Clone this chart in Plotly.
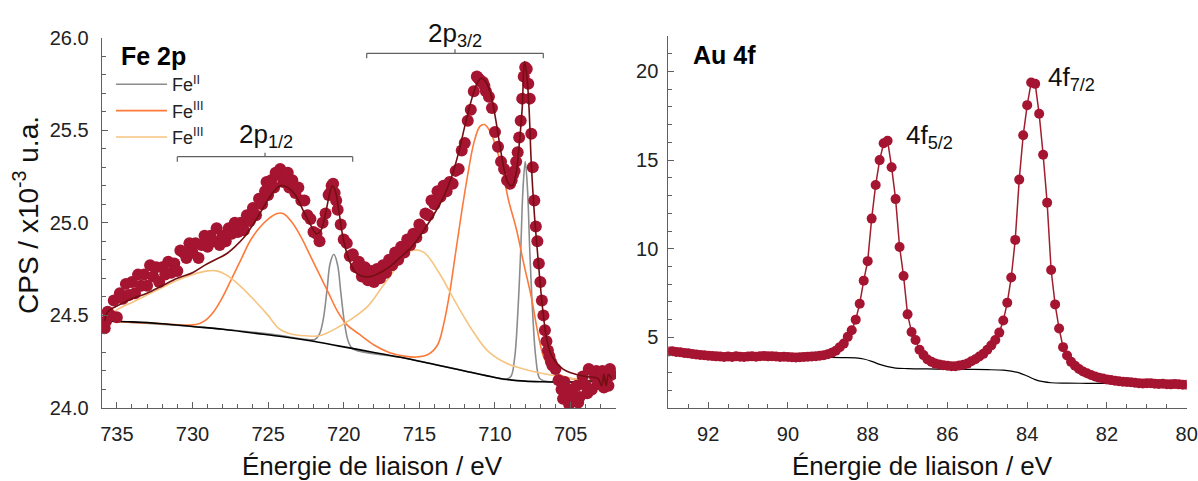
import plotly.graph_objects as go

W, H = 1198, 481
FONT = "Liberation Sans, Arial, sans-serif"

# ---------------- Fe 2p data ----------------
fe_be = [735.8, 735.7, 735.6, 735.4, 735.2, 735.0, 734.8, 734.6, 734.4, 734.2, 734.0, 733.8, 733.6, 733.4,
         733.2, 733.0, 732.8, 732.6, 732.4, 732.2, 732.0, 731.8, 731.6, 731.4, 731.2, 731.0, 730.8, 730.6,
         730.4, 730.2, 730.0, 729.8, 729.6, 729.4, 729.2, 729.0, 728.8, 728.6, 728.4, 728.2, 728.0, 727.8,
         727.6, 727.4, 727.2, 727.0, 726.8, 726.6, 726.4, 726.2, 726.0, 725.8, 725.6, 725.4, 725.2, 725.1,
         725.0, 724.8, 724.6, 724.5, 724.4, 724.2, 724.0, 723.8, 723.7, 723.6, 723.4, 723.2, 723.0, 722.8,
         722.6, 722.4, 722.2, 722.0, 721.8, 721.6, 721.4, 721.2, 721.0, 720.9, 720.8, 720.7, 720.6, 720.5,
         720.4, 720.2, 720.0, 719.8, 719.6, 719.4, 719.2, 719.0, 718.8, 718.6, 718.4, 718.2, 718.0, 717.8,
         717.6, 717.4, 717.2, 717.0, 716.8, 716.6, 716.4, 716.2, 716.0, 715.8, 715.6, 715.4, 715.2, 715.0,
         714.8, 714.6, 714.4, 714.2, 714.0, 713.8, 713.6, 713.4, 713.2, 713.0, 712.8, 712.6, 712.4, 712.2,
         712.0, 711.8, 711.6, 711.4, 711.2, 711.1, 711.0, 710.9, 710.8, 710.7, 710.6, 710.4, 710.2, 710.0,
         709.8, 709.6, 709.4, 709.2, 709.0, 708.9, 708.8, 708.7, 708.6, 708.5, 708.4, 708.3, 708.2, 708.1,
         708.0, 707.9, 707.8, 707.7, 707.6, 707.5, 707.4, 707.3, 707.2, 707.1, 707.0, 706.9, 706.8, 706.7,
         706.6, 706.5, 706.4, 706.3, 706.2, 706.0, 705.8, 705.6, 705.5, 705.4, 705.2, 705.1, 705.0, 704.9,
         704.8, 704.6, 704.5, 704.4, 704.2, 704.0, 703.9, 703.8, 703.6, 703.4, 703.3, 703.2, 703.0, 702.9,
         702.8, 702.6, 702.5, 702.4, 702.3]
fe_cps = [24.43, 24.47, 24.52, 24.50, 24.58, 24.49, 24.62, 24.59, 24.67, 24.61, 24.68, 24.62, 24.72, 24.66,
          24.72, 24.66, 24.77, 24.71, 24.76, 24.68, 24.76, 24.72, 24.79, 24.73, 24.78, 24.74, 24.85, 24.84,
          24.81, 24.89, 24.84, 24.89, 24.81, 24.88, 24.93, 24.87, 24.93, 24.90, 24.97, 24.88, 24.93, 24.90,
          24.97, 24.94, 25.00, 24.95, 25.00, 24.96, 25.04, 25.01, 25.08, 25.04, 25.13, 25.10, 25.17, 25.22,
          25.15, 25.23, 25.19, 25.27, 25.26, 25.29, 25.22, 25.26, 25.27, 25.19, 25.23, 25.16, 25.19, 25.12,
          25.12, 25.04, 25.02, 24.95, 24.94, 24.90, 25.00, 25.05, 25.15, 25.16, 25.20, 25.21, 25.16, 25.12,
          25.07, 24.99, 24.91, 24.89, 24.82, 24.83, 24.76, 24.79, 24.71, 24.76, 24.69, 24.74, 24.68, 24.75,
          24.70, 24.77, 24.73, 24.80, 24.77, 24.84, 24.80, 24.87, 24.84, 24.91, 24.88, 24.94, 24.92, 24.99,
          24.97, 25.05, 25.04, 25.12, 25.10, 25.17, 25.14, 25.20, 25.17, 25.22, 25.21, 25.28, 25.29, 25.39,
          25.43, 25.55, 25.61, 25.71, 25.79, 25.78, 25.77, 25.76, 25.76, 25.74, 25.71, 25.68, 25.62, 25.49,
          25.41, 25.33, 25.29, 25.23, 25.21, 25.23, 25.26, 25.28, 25.33, 25.38, 25.46, 25.55, 25.67, 25.79,
          25.84, 25.83, 25.75, 25.67, 25.48, 25.30, 25.12, 24.98, 24.90, 24.78, 24.68, 24.58, 24.50, 24.42,
          24.36, 24.31, 24.28, 24.25, 24.23, 24.21, 24.15, 24.10, 24.05, 24.14, 24.06, 24.02, 24.09, 24.10,
          24.04, 24.12, 24.03, 24.06, 24.17, 24.12, 24.08, 24.21, 24.10, 24.17, 24.20, 24.13, 24.18, 24.20,
          24.11, 24.16, 24.12, 24.21, 24.18]

# fitted envelope
fit_be = [735.8, 735.6, 735.0, 734.0, 733.0, 732.0, 731.0, 730.0, 729.2, 728.5, 727.8, 727.2, 726.6, 726.0,
          725.4, 724.8, 724.2, 723.7, 723.2, 722.7, 722.2, 721.8, 721.5, 721.2, 720.95, 720.75, 720.55,
          720.3, 720.0, 719.6, 719.2, 718.7, 718.2, 717.6, 717.0, 716.3, 715.5, 714.7, 714.0, 713.4, 712.9,
          712.4, 712.0, 711.6, 711.2, 710.9, 710.6, 710.3, 710.0, 709.7, 709.4, 709.1, 708.85, 708.6, 708.4,
          708.2, 708.05, 707.9, 707.75, 707.6, 707.4, 707.2, 707.0, 706.8, 706.6, 706.3, 706.0, 705.5,
          705.0, 704.0, 703.2, 702.95, 702.8, 702.65, 702.5, 702.3]
fit_cps = [24.47, 24.52, 24.55, 24.59, 24.62, 24.66, 24.70, 24.73, 24.77, 24.80, 24.83, 24.87, 24.92, 24.99,
           25.07, 25.15, 25.20, 25.19, 25.15, 25.07, 24.99, 24.94, 24.96, 25.05, 25.15, 25.20, 25.17,
           25.05, 24.90, 24.79, 24.73, 24.71, 24.71, 24.73, 24.76, 24.81, 24.87, 24.96, 25.05, 25.14, 25.24,
           25.38, 25.52, 25.65, 25.75, 25.78, 25.76, 25.70, 25.58, 25.43, 25.29, 25.21, 25.20, 25.27, 25.42,
           25.62, 25.87, 25.80, 25.62, 25.32, 25.05, 24.85, 24.66, 24.50, 24.38, 24.29, 24.25, 24.21,
           24.19, 24.17, 24.16, 24.12, 24.18, 24.12, 24.18, 24.16]

# background
bg_be = [735.8, 734.0, 732.0, 730.0, 728.0, 726.0, 724.0, 722.0, 720.0, 718.0, 716.0, 714.0, 712.0, 710.0,
         709.0, 708.0, 707.0, 705.0, 703.2, 702.95, 702.8, 702.65, 702.5, 702.3]
bg_cps = [24.47, 24.465, 24.455, 24.44, 24.425, 24.405, 24.385, 24.36, 24.33, 24.30, 24.27, 24.235, 24.20,
          24.165, 24.152, 24.145, 24.142, 24.14, 24.14, 24.11, 24.16, 24.11, 24.16, 24.14]

# Fe(II) component
fe2_be = [735.8, 730.0, 725.0, 722.4, 721.9, 721.6, 721.35, 721.1, 720.9, 720.65, 720.4, 720.2, 719.95,
          719.7, 719.4, 716.0, 712.0, 710.0, 709.3, 708.95, 708.7, 708.5, 708.3, 708.15, 708.0, 707.85,
          707.7, 707.5, 707.3, 707.05, 706.7, 705.0, 702.3]
fe2_cps = [24.47, 24.44, 24.40, 24.37, 24.37, 24.40, 24.48, 24.64, 24.78, 24.83, 24.77, 24.63, 24.46,
           24.36, 24.32, 24.27, 24.20, 24.165, 24.155, 24.17, 24.27, 24.50, 24.85, 25.18, 25.33, 25.18,
           24.85, 24.50, 24.27, 24.16, 24.145, 24.14, 24.14]

# Fe(III) component (orange)
fe3a_be = [735.8, 732.0, 729.8, 729.2, 728.6, 728.0, 727.4, 726.8, 726.2, 725.6, 725.0, 724.4, 724.0,
           723.4, 722.8, 722.2, 721.6, 721.0, 720.4, 719.8, 719.0, 718.0, 717.0, 716.0, 715.2, 714.4,
           713.8, 713.4, 713.0, 712.6, 712.2, 711.8, 711.4, 711.0, 710.7, 710.3, 709.9, 709.5, 709.1,
           708.6, 708.1, 707.6, 707.2, 706.8, 706.4, 706.0, 705.0, 704.0, 702.3]
fe3a_cps = [24.47, 24.455, 24.45, 24.47, 24.52, 24.60, 24.70, 24.80, 24.90, 24.97, 25.02, 25.05, 25.05,
            25.00, 24.92, 24.82, 24.72, 24.62, 24.52, 24.45, 24.40, 24.34, 24.30, 24.28, 24.275, 24.29,
            24.34, 24.45, 24.62, 24.84, 25.06, 25.26, 25.43, 25.52, 25.53, 25.49, 25.40, 25.28, 25.12,
            24.97, 24.78, 24.60, 24.42, 24.28, 24.22, 24.19, 24.16, 24.15, 24.14]

# Fe(III) component (light orange)
fe3b_be = [735.8, 735.0, 734.0, 733.0, 732.0, 731.0, 730.0, 729.0, 728.4, 727.8, 727.0, 726.0, 725.0,
           724.3, 723.5, 722.5, 721.6, 720.5, 719.5, 718.4, 717.4, 716.3, 715.5, 714.7, 713.7, 712.6,
           711.5, 710.5, 709.2, 707.6, 705.7, 704.0, 702.3]
fe3b_cps = [24.48, 24.53, 24.57, 24.61, 24.65, 24.69, 24.72, 24.74, 24.74, 24.72, 24.67, 24.59, 24.50,
            24.43, 24.40, 24.39, 24.39, 24.43, 24.48, 24.55, 24.66, 24.78, 24.85, 24.84, 24.73, 24.57,
            24.42, 24.31, 24.24, 24.20, 24.17, 24.15, 24.14]

# ---------------- Au 4f data ----------------
au_be = [93.0, 92.9, 92.8, 92.7, 92.6, 92.5, 92.4, 92.3, 92.2, 92.1, 92.0, 91.9, 91.8, 91.7, 91.6, 91.5,
         91.4, 91.3, 91.2, 91.1, 91.0, 90.9, 90.8, 90.7, 90.6, 90.5, 90.4, 90.3, 90.2, 90.1, 90.0, 89.9,
         89.8, 89.7, 89.6, 89.5, 89.4, 89.3, 89.2, 89.1, 89.0, 88.9, 88.8, 88.7, 88.6, 88.5, 88.4, 88.3,
         88.2, 88.1, 88.0, 87.9, 87.8, 87.7, 87.6, 87.5, 87.4, 87.3, 87.2, 87.1, 87.0, 86.9, 86.8, 86.7,
         86.6, 86.5, 86.4, 86.3, 86.2, 86.1, 86.0, 85.9, 85.8, 85.7, 85.6, 85.5, 85.4, 85.3, 85.2, 85.1,
         85.0, 84.9, 84.8, 84.7, 84.6, 84.5, 84.4, 84.3, 84.2, 84.1, 84.0, 83.9, 83.8, 83.7, 83.6, 83.5,
         83.4, 83.3, 83.2, 83.1, 83.0, 82.9, 82.8, 82.7, 82.6, 82.5, 82.4, 82.3, 82.2, 82.1, 82.0, 81.9,
         81.8, 81.7, 81.6, 81.5, 81.4, 81.3, 81.2, 81.1, 81.0, 80.9, 80.8, 80.7, 80.6, 80.5, 80.4, 80.3,
         80.2, 80.1, 80.0]
au_cps = [4.20, 4.22, 4.18, 4.16, 4.12, 4.10, 4.06, 4.03, 4.01, 3.99, 3.97, 3.95, 3.93, 3.92, 3.90, 3.92,
          3.90, 3.93, 3.91, 3.90, 3.92, 3.93, 3.91, 3.94, 3.95, 3.93, 3.94, 3.92, 3.90, 3.91, 3.89, 3.88,
          3.87, 3.88, 3.90, 3.91, 3.92, 3.94, 3.96, 3.99, 4.05, 4.13, 4.25, 4.45, 4.65, 5.03, 5.40, 6.00,
          6.90, 8.20, 9.30, 11.70, 13.60, 15.00, 15.95, 16.09, 14.60, 12.80, 10.10, 8.46, 6.30, 5.30, 4.85,
          4.30, 4.00, 3.75, 3.62, 3.52, 3.47, 3.43, 3.40, 3.37, 3.37, 3.41, 3.46, 3.52, 3.65, 3.77, 3.92,
          4.07, 4.30, 4.55, 4.85, 5.27, 5.95, 6.95, 8.38, 10.50, 13.90, 16.40, 18.10, 19.38, 19.30, 17.61,
          15.30, 12.60, 8.80, 6.86, 5.50, 4.45, 3.98, 3.62, 3.40, 3.22, 3.08, 2.98, 2.88, 2.80, 2.73, 2.68,
          2.63, 2.59, 2.56, 2.53, 2.50, 2.48, 2.47, 2.44, 2.42, 2.40, 2.41, 2.42, 2.39, 2.37, 2.38, 2.36,
          2.35, 2.37, 2.35, 2.33, 2.33]

aubg_be = [88.93, 88.6, 88.3, 88.1, 87.9, 87.7, 87.5, 87.3, 87.0, 86.5, 86.0, 85.5, 85.0, 84.6, 84.4, 84.2,
           84.0, 83.8, 83.6, 83.4, 83.0, 82.5, 82.0]
aubg_cps = [3.87, 3.86, 3.84, 3.78, 3.65, 3.48, 3.35, 3.27, 3.24, 3.22, 3.21, 3.20, 3.18, 3.15, 3.10, 3.00,
            2.82, 2.62, 2.50, 2.44, 2.42, 2.41, 2.41]

legend_names = ["Fe<sup>II</sup>", "Fe<sup>III</sup>", "Fe<sup>III</sup>"]

# ---------------- colours ----------------
C_DATA = "rgb(165,20,48)"
C_FIT = "rgb(115,15,18)"
C_FE2 = "rgb(140,140,140)"
C_FE3A = "rgb(252,122,58)"
C_FE3B = "rgb(246,196,128)"
C_AXIS = "#606060"

fig = go.Figure()

def line(x, y, color, width, name=None, show=False, xa="x", ya="y", shape="spline"):
    fig.add_trace(go.Scatter(x=x, y=y, mode="lines", name=name, showlegend=show,
                             line=dict(color=color, width=width, shape=shape, smoothing=1.0),
                             xaxis=xa, yaxis=ya, hoverinfo="skip"))

line(fe2_be, fe2_cps, C_FE2, 1.6, legend_names[0], True)
line(fe3a_be, fe3a_cps, C_FE3A, 1.6, legend_names[1], True)
line(fe3b_be, fe3b_cps, C_FE3B, 1.6, legend_names[2], True)
line(bg_be, bg_cps, "black", 1.6)
fig.add_trace(go.Scatter(x=fe_be, y=fe_cps, mode="markers", showlegend=False,
                         marker=dict(color=C_DATA, size=12, line=dict(width=0)),
                         xaxis="x", yaxis="y", hoverinfo="skip"))
line(fit_be, fit_cps, C_FIT, 1.6)

# Au 4f
line(aubg_be, aubg_cps, "black", 1.2, xa="x2", ya="y2")
fig.add_trace(go.Scatter(x=au_be, y=au_cps, mode="lines+markers", showlegend=False,
                         line=dict(color="rgb(160,30,45)", width=1.5),
                         marker=dict(color=C_DATA, size=10, line=dict(width=0)),
                         xaxis="x2", yaxis="y2", hoverinfo="skip"))

def px(xp):
    return xp / W

def py(yp):
    return 1 - yp / H

axis_common = dict(showline=True, linecolor=C_AXIS, linewidth=1, ticks="inside", ticklen=6,
                   tickwidth=1, tickcolor=C_AXIS, showgrid=False, zeroline=False, automargin=False,
                   tickfont=dict(family=FONT, size=20, color="#222"))

fig.update_layout(
    template="none",
    width=W, height=H, margin=dict(l=0, r=0, t=0, b=0, pad=0, autoexpand=False),
    paper_bgcolor="white", plot_bgcolor="white",
    font=dict(family=FONT, color="#111"),
    xaxis=dict(domain=[px(101.7), px(616)], range=[736, 702], anchor="y", dtick=5, tick0=0,
               minor=dict(ticks="inside", ticklen=4, dtick=1, tickcolor=C_AXIS, tick0=0),
               ticklabelstandoff=8, **axis_common),
    yaxis=dict(domain=[py(408), py(37.5)], range=[24, 26], anchor="x", dtick=0.5, tick0=0,
               tickformat=".1f", ticklabelstandoff=8,
               minor=dict(ticks="inside", ticklen=4, dtick=0.1, tickcolor=C_AXIS, tick0=0),
               **axis_common),
    xaxis2=dict(domain=[px(668.3), px(1186.7)], range=[93, 80], anchor="y2", dtick=2, tick0=0,
                minor=dict(ticks="inside", ticklen=4, dtick=0.5, tickcolor=C_AXIS, tick0=0),
                ticklabelstandoff=8, **axis_common),
    yaxis2=dict(domain=[py(408.3), py(36)], range=[1, 22], anchor="x2", dtick=5, tick0=0,
                ticklabelstandoff=5,
                minor=dict(ticks="inside", ticklen=4, dtick=1, tickcolor=C_AXIS, tick0=0),
                **axis_common),
    legend=dict(x=px(111), y=py(66), xanchor="left", yanchor="top", bgcolor="rgba(0,0,0,0)",
                font=dict(family=FONT, size=18, color="#222"), tracegroupgap=0, itemwidth=51),
    showlegend=True,
)

ann = []
ann.append(dict(text="CPS / x10<sup>-3</sup> u.a.", x=px(26), y=py(215), textangle=-90,
                font=dict(size=28)))
ann.append(dict(text="Énergie de liaison / eV", x=px(372), y=py(466), font=dict(size=26)))
ann.append(dict(text="Énergie de liaison / eV", x=px(922), y=py(466), font=dict(size=26)))
ann.append(dict(text="<b>Fe 2p</b>", x=px(119), y=py(56), xanchor="left", font=dict(size=25, color="black")))
ann.append(dict(text="<b>Au 4f</b>", x=px(691), y=py(55), xanchor="left", font=dict(size=25, color="black")))
ann.append(dict(text="2p<sub>1/2</sub>", x=px(265.5), y=py(135), font=dict(size=26)))
ann.append(dict(text="2p<sub>3/2</sub>", x=px(455), y=py(34), font=dict(size=26)))
ann.append(dict(text="4f<sub>5/2</sub>", x=px(904), y=py(137), xanchor="left", font=dict(size=26)))
ann.append(dict(text="4f<sub>7/2</sub>", x=px(1046), y=py(78), xanchor="left", font=dict(size=26)))
for a in ann:
    a.setdefault("xanchor", "center")
    a.setdefault("yanchor", "middle")
    a["xref"] = "paper"
    a["yref"] = "paper"
    a["showarrow"] = False
    a["font"].setdefault("family", FONT)
    a["font"].setdefault("color", "#111")
fig.update_layout(annotations=ann)

# brackets (pixel positions of the peak-group braces)
brackets = [(177.3, 352.7, 156.7), (366.7, 543.3, 53.3)]
shapes = []
for x0, x1, yb in brackets:
    xc = (x0 + x1) / 2
    for (a, b, c, d) in [(x0, yb, x1, yb), (x0, yb, x0, yb + 5), (x1, yb, x1, yb + 5), (xc, yb, xc, yb - 4)]:
        shapes.append(dict(type="line", xref="paper", yref="paper", x0=px(a), y0=py(b), x1=px(c), y1=py(d),
                           line=dict(color=C_AXIS, width=1.2)))
fig.update_layout(shapes=shapes)

fig.write_html("out.html", post_script="document.body.style.margin='0';",
               config={"displayModeBar": False})
